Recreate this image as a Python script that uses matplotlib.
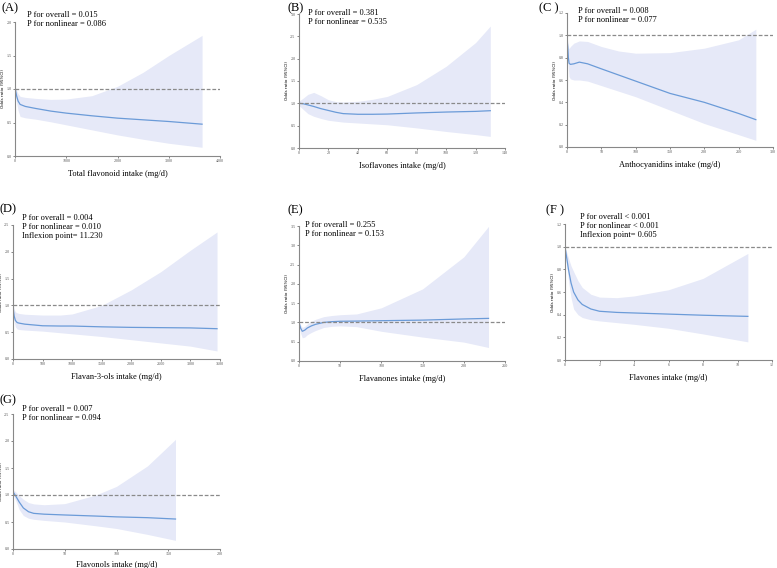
import matplotlib
matplotlib.use('Agg')
import matplotlib.pyplot as plt
import numpy as np

plt.rcParams['font.family'] = ['Liberation Serif', 'DejaVu Serif']

# (A) total flavonoid
a_x  = [0, 30, 60, 100, 200, 400, 700, 1000, 1500, 2000, 2500, 3000, 3650]
a_or = [1.02, 0.90, 0.82, 0.77, 0.74, 0.71, 0.67, 0.64, 0.60, 0.565, 0.54, 0.515, 0.475]
a_hi = [1.05, 0.98, 0.93, 0.89, 0.875, 0.86, 0.845, 0.85, 0.90, 1.04, 1.25, 1.50, 1.80]
a_lo = [0.98, 0.80, 0.68, 0.59, 0.57, 0.55, 0.51, 0.465, 0.39, 0.315, 0.25, 0.19, 0.13]

# (B) isoflavones
b_x  = [0, 3, 6, 10, 15, 20, 25, 30, 40, 50, 60, 80, 100, 120, 130]
b_or = [1.0, 0.99, 0.965, 0.93, 0.88, 0.84, 0.80, 0.77, 0.755, 0.755, 0.76, 0.785, 0.805, 0.82, 0.835]
b_hi = [1.05, 1.12, 1.20, 1.245, 1.17, 1.08, 1.04, 1.03, 1.045, 1.09, 1.155, 1.42, 1.83, 2.36, 2.73]
b_lo = [0.95, 0.86, 0.77, 0.71, 0.66, 0.62, 0.60, 0.58, 0.56, 0.54, 0.52, 0.45, 0.37, 0.30, 0.26]

# (C) anthocyanidins
c_x  = [0, 1, 2, 3, 5, 10, 18, 30, 50, 75, 100, 150, 200, 250, 275]
c_or = [0.97, 0.90, 0.80, 0.75, 0.74, 0.745, 0.76, 0.745, 0.70, 0.645, 0.59, 0.48, 0.40, 0.30, 0.245]
c_hi = [1.0, 0.95, 0.90, 0.88, 0.90, 0.93, 0.95, 0.945, 0.90, 0.86, 0.84, 0.845, 0.885, 0.96, 1.055]
c_lo = [0.93, 0.80, 0.70, 0.63, 0.61, 0.60, 0.60, 0.59, 0.55, 0.50, 0.45, 0.33, 0.21, 0.11, 0.06]

# (D) flavan-3-ols
d_x  = [0, 10, 20, 40, 70, 100, 200, 500, 800, 1000, 1500, 2000, 2500, 3000, 3450]
d_or = [1.0, 0.88, 0.80, 0.72, 0.68, 0.67, 0.65, 0.62, 0.615, 0.615, 0.60, 0.59, 0.585, 0.58, 0.565]
d_hi = [1.02, 0.98, 0.93, 0.88, 0.86, 0.85, 0.835, 0.82, 0.82, 0.84, 1.0, 1.29, 1.63, 2.03, 2.37]
d_lo = [0.96, 0.80, 0.70, 0.60, 0.56, 0.55, 0.54, 0.52, 0.49, 0.47, 0.42, 0.36, 0.30, 0.24, 0.15]

# (E) flavanones
e_x  = [0, 2, 4, 7, 10, 15, 20, 30, 40, 50, 70, 100, 150, 200, 230]
e_or = [1.0, 0.85, 0.77, 0.80, 0.855, 0.91, 0.95, 1.0, 1.02, 1.03, 1.035, 1.045, 1.06, 1.09, 1.105]
e_hi = [1.03, 0.93, 0.87, 0.90, 0.96, 1.03, 1.08, 1.15, 1.18, 1.20, 1.22, 1.38, 1.87, 2.70, 3.49]
e_lo = [0.97, 0.72, 0.60, 0.62, 0.68, 0.74, 0.79, 0.87, 0.90, 0.91, 0.89, 0.77, 0.62, 0.49, 0.35]

# (F) flavones
f_x  = [0, 0.1, 0.2, 0.35, 0.5, 0.75, 1.0, 1.5, 2, 3, 4, 6, 8, 10.6]
f_or = [1.0, 0.90, 0.80, 0.68, 0.60, 0.53, 0.49, 0.45, 0.43, 0.42, 0.415, 0.405, 0.395, 0.385]
f_hi = [1.0, 0.95, 0.90, 0.83, 0.78, 0.70, 0.64, 0.58, 0.555, 0.55, 0.565, 0.62, 0.72, 0.94]
f_lo = [1.0, 0.85, 0.70, 0.55, 0.45, 0.40, 0.375, 0.355, 0.345, 0.33, 0.315, 0.28, 0.23, 0.16]

# (G) flavonols
g_x  = [0, 3, 6, 10, 15, 20, 30, 50, 80, 100, 130, 157]
g_or = [1.06, 0.97, 0.87, 0.76, 0.69, 0.66, 0.645, 0.63, 0.61, 0.595, 0.58, 0.555]
g_hi = [1.10, 1.05, 0.99, 0.92, 0.86, 0.835, 0.82, 0.84, 1.0, 1.16, 1.54, 2.03]
g_lo = [1.02, 0.88, 0.73, 0.62, 0.57, 0.55, 0.53, 0.50, 0.43, 0.38, 0.27, 0.16]

panels = [
    # tag, x, or, lo, hi, xlim, xstep, ylim, ystep, xlabel, notes
    ('(A)', a_x, a_or, a_lo, a_hi, 4000, 1000, 2.0, 0.5, 'Total flavonoid intake (mg/d)',
     'P for overall = 0.015\nP for nonlinear = 0.086'),
    ('(B)', b_x, b_or, b_lo, b_hi, 140, 20, 3.0, 0.5, 'Isoflavones intake (mg/d)',
     'P for overall = 0.381\nP for nonlinear = 0.535'),
    ('(C )', c_x, c_or, c_lo, c_hi, 300, 50, 1.2, 0.2, 'Anthocyanidins intake (mg/d)',
     'P for overall = 0.008\nP for nonlinear = 0.077'),
    ('(D)', d_x, d_or, d_lo, d_hi, 3500, 500, 2.5, 0.5, 'Flavan-3-ols intake (mg/d)',
     'P for overall = 0.004\nP for nonlinear = 0.010\nInflexion point= 11.230'),
    ('(E)', e_x, e_or, e_lo, e_hi, 250, 50, 3.5, 0.5, 'Flavanones intake (mg/d)',
     'P for overall = 0.255\nP for nonlinear = 0.153'),
    ('(F )', f_x, f_or, f_lo, f_hi, 12, 2, 1.2, 0.2, 'Flavones intake (mg/d)',
     'P for overall < 0.001\nP for nonlinear < 0.001\nInflexion point= 0.605'),
    ('(G)', g_x, g_or, g_lo, g_hi, 200, 50, 2.5, 0.5, 'Flavonols intake (mg/d)',
     'P for overall = 0.007\nP for nonlinear = 0.094'),
]

# axes boxes in pixels: left, top, right, bottom
boxes = [(15, 22, 220, 156), (299, 14, 505, 148), (567, 13, 773, 147),
         (13, 225, 220, 359), (299, 226, 505, 361), (565, 224, 772, 360),
         (13, 414, 220, 549)]
tag_pos = [(2, 8), (287, 8), (539, 8), (0, 209), (287, 210), (546, 210), (0, 400)]
note_pos = [(27, 11), (308, 9), (578, 7), (22, 214), (305, 221), (580, 213), (22, 405)]
xpads = [5, 5, 5, 5, 5, 5, 3]

W, H = 777, 568
fig = plt.figure(figsize=(W / 100, H / 100), dpi=100)

for p, box, tp, npos, xpad in zip(panels, boxes, tag_pos, note_pos, xpads):
    tag, x, y, lo, hi, xmax, xstep, ymax, ystep, xlab, note = p
    l, t, r, b = box
    ax = fig.add_axes([l / W, 1 - b / H, (r - l) / W, (b - t) / H])
    ax.fill_between(x, lo, hi, color='#e6e9f8', lw=0)
    ax.plot(x, y, color='#6b9bd8', lw=0.9)
    ax.axhline(1.0, color='#8a8a8a', lw=0.9, ls=(0, (3, 1.5)))
    ax.set_xlim(0, xmax)
    ax.set_ylim(0, ymax)
    ax.set_xticks(np.arange(0, xmax + xstep / 2, xstep))
    ax.set_yticks(np.arange(0, ymax + ystep / 2, ystep))
    ax.set_yticklabels(['%.1f' % v for v in np.arange(0, ymax + ystep / 2, ystep)])
    ax.tick_params(labelsize=3, length=1.5, width=0.5, pad=1, colors='#555555')
    for s in ['top', 'right']:
        ax.spines[s].set_visible(False)
    for s in ['left', 'bottom']:
        ax.spines[s].set_color('#888888')
        ax.spines[s].set_linewidth(0.8)
    ax.set_ylabel('Odds ratio (95%CI)', fontsize=3, labelpad=1, family='DejaVu Sans')
    ax.set_xlabel(xlab, fontsize=6, labelpad=xpad)
    fig.text(tp[0] / W, 1 - tp[1] / H, tag, fontsize=9, va='center', ha='left')
    fig.text(npos[0] / W, 1 - npos[1] / H, note, fontsize=6, va='top', ha='left',
             linespacing=1.2)

fig.savefig('out.png', dpi=100)
